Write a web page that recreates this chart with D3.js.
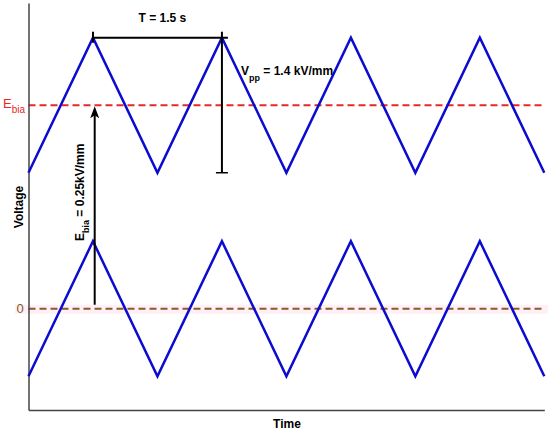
<!DOCTYPE html>
<html>
<head>
    <script src="https://d3js.org/d3.v7.min.js"></script>
    <style>
        body { margin: 0; background: #fff; }
        text { font-family: "Liberation Sans", Arial, sans-serif; }
    </style>
</head>
<body>
    <div id="chart"></div>
    <script>
        // waveform vertices (time in s, field in kV/mm as drawn - schematic offset)
        var waveTime  = [0, 0.75, 1.5, 2.25, 3, 3.75, 4.5, 5.25, 6];
        var lowerWave = [-0.7, 0.7, -0.7, 0.7, -0.7, 0.7, -0.7, 0.7, -0.7];
        var upperWave = [1.41, 2.81, 1.41, 2.81, 1.41, 2.81, 1.41, 2.81, 1.41];
        var biasLevel = 2.11;   // drawn position of the E_bia line
        var zeroLevel = 0;
        var periodStart = 0.75, periodEnd = 2.25;
        var biasArrowTime = 0.77;

        var w = 550, h = 431;
        var padL = 28.5, padR = 544.3, padT = 3, padB = 410;

        var xScale = d3.scaleLinear().domain([0, 6]).range([padL, padR]);
        var yScale = d3.scaleLinear().domain([-1.05, 3.17]).range([padB, padT]);

        var svg = d3.select("#chart").append("svg")
            .attr("width", w).attr("height", h);

        // faint pink band behind the zero line
        svg.append("rect")
            .attr("x", 15).attr("y", yScale(zeroLevel) - 4)
            .attr("width", 533).attr("height", 9)
            .style("fill", "#fdf0f6");

        // dashed reference lines
        svg.append("line")
            .attr("x1", padL).attr("x2", padR)
            .attr("y1", yScale(biasLevel)).attr("y2", yScale(biasLevel))
            .style("stroke", "#e82828").style("stroke-width", 2)
            .style("stroke-dasharray", "7,4");
        svg.append("line")
            .attr("x1", padL).attr("x2", padR)
            .attr("y1", yScale(zeroLevel)).attr("y2", yScale(zeroLevel))
            .style("stroke", "#8a5a2a").style("stroke-width", 2)
            .style("stroke-dasharray", "7,4");

        // axes: plain lines, no ticks
        var xAxis = d3.axisBottom(xScale).tickValues([]).tickSizeOuter(0);
        var yAxis = d3.axisLeft(yScale).tickValues([]).tickSizeOuter(0);
        svg.append("g").attr("class", "axis")
            .attr("transform", "translate(0," + padB + ")").call(xAxis);
        svg.append("g").attr("class", "axis")
            .attr("transform", "translate(" + padL + ",0)").call(yAxis);
        svg.selectAll(".axis path").style("stroke", "#444").style("stroke-width", 1.5);

        // triangle waves
        var line = d3.line()
            .x(function(d){ return xScale(d[0]); })
            .y(function(d){ return yScale(d[1]); });
        [upperWave, lowerWave].forEach(function(series){
            svg.append("path")
                .datum(waveTime.map(function(t, i){ return [t, series[i]]; }))
                .attr("d", line)
                .style("fill", "none")
                .style("stroke", "#0c0cd0")
                .style("stroke-width", 2.5)
                .style("stroke-linejoin", "miter");
        });

        var peak = d3.max(upperWave), trough = d3.min(upperWave);
        var blk = "#000";

        // period bar
        svg.append("line")
            .attr("x1", xScale(periodStart)).attr("x2", xScale(periodEnd) + 6)
            .attr("y1", yScale(peak)).attr("y2", yScale(peak))
            .style("stroke", blk).style("stroke-width", 2);
        svg.append("line")
            .attr("x1", xScale(periodStart)).attr("x2", xScale(periodStart))
            .attr("y1", yScale(peak) - 6).attr("y2", yScale(peak) + 5)
            .style("stroke", blk).style("stroke-width", 2);
        // Vpp bar
        svg.append("line")
            .attr("x1", xScale(periodEnd)).attr("x2", xScale(periodEnd))
            .attr("y1", yScale(peak) - 6).attr("y2", yScale(trough))
            .style("stroke", blk).style("stroke-width", 2);
        svg.append("line")
            .attr("x1", xScale(periodEnd) - 6).attr("x2", xScale(periodEnd) + 6)
            .attr("y1", yScale(trough)).attr("y2", yScale(trough))
            .style("stroke", blk).style("stroke-width", 1.5);

        svg.append("text")
            .attr("x", (xScale(periodStart) + xScale(periodEnd)) / 2 + 5)
            .attr("y", 22)
            .attr("text-anchor", "middle")
            .style("font-size", "12px").style("font-weight", "bold")
            .text("T = 1.5 s");

        var vpp = svg.append("text")
            .attr("x", 241).attr("y", 75)
            .style("font-size", "12px").style("font-weight", "bold");
        vpp.append("tspan").text("V");
        vpp.append("tspan").attr("dy", 6).style("font-size", "9px").text("pp");
        vpp.append("tspan").attr("dy", -6).text(" = 1.4 kV/mm");

        // bias arrow
        var ax = xScale(biasArrowTime);
        var tipY = yScale(biasLevel) + 1;
        svg.append("line")
            .attr("x1", ax).attr("x2", ax)
            .attr("y1", yScale(zeroLevel) - 4).attr("y2", tipY + 8)
            .style("stroke", blk).style("stroke-width", 2);
        svg.append("path")
            .attr("d", "M" + ax + "," + tipY + " L" + (ax - 4.5) + "," + (tipY + 12) +
                  " L" + ax + "," + (tipY + 9) + " L" + (ax + 4.5) + "," + (tipY + 12) + "Z")
            .style("fill", blk);

        var eb = svg.append("text")
            .attr("transform", "translate(84,241) rotate(-90)")
            .style("font-size", "12px").style("font-weight", "bold");
        eb.append("tspan").text("E");
        eb.append("tspan").attr("dy", 5).style("font-size", "9px").text("bia");
        eb.append("tspan").attr("dy", -5).text(" = 0.25kV/mm");

        // level labels
        var el = svg.append("text")
            .attr("x", 3).attr("y", yScale(biasLevel) + 3)
            .style("font-size", "13px").style("fill", "#e82828");
        el.append("tspan").text("E");
        el.append("tspan").attr("dy", 5).style("font-size", "10px").text("bia");

        svg.append("text")
            .attr("x", 20).attr("y", yScale(zeroLevel) + 4.5)
            .attr("text-anchor", "middle")
            .style("font-size", "13px").style("fill", "#8a5a2a")
            .text("0");

        // axis titles
        svg.append("text")
            .attr("transform", "translate(23,207) rotate(-90)")
            .attr("text-anchor", "middle")
            .style("font-size", "12px").style("font-weight", "bold")
            .text("Voltage");
        svg.append("text")
            .attr("x", 287).attr("y", 428)
            .attr("text-anchor", "middle")
            .style("font-size", "12px").style("font-weight", "bold")
            .text("Time");
    </script>
</body>
</html>
